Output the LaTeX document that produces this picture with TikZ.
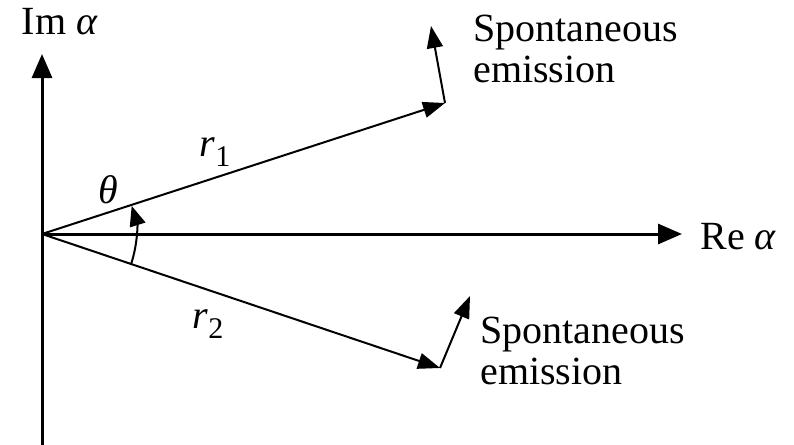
\documentclass[tikz,border=0pt]{standalone}
\usepackage{fontspec}
\setmainfont{Liberation Serif}
\usetikzlibrary{arrows.meta,positioning,calc}

\begin{document}
\begin{tikzpicture}[x=0.5pt,y=-0.5pt,
    axis/.style={line width=1.5pt,-{Triangle[length=12pt,width=10pt]}},
    vec/.style={line width=1pt,-{Triangle[length=11pt,width=8pt]}},
    lbl/.style={font=\fontsize{20}{20.5}\selectfont,inner sep=0pt}]
    \useasboundingbox (0,0) rectangle (794,445);

    \coordinate (O) at (42,234);
    \coordinate (Imbot) at (42,445);
    \coordinate (Imtip) at (42,54);
    \coordinate (Retip) at (682,234);
    \coordinate (A) at (445,103);
    \coordinate (Aem) at (431,26);
    \coordinate (B) at (440,368);
    \coordinate (Bem) at (470,296);

    \draw[axis] (Imbot) -- (Imtip);
    \draw[axis] (O) -- (Retip);
    \node[lbl] (imlbl) at (60,22) {Im \textit{α}};
    \node[lbl,anchor=west] (relbl) at (700,237) {Re \textit{α}};

    \draw[vec] (O) -- (A);
    \draw[vec] (A) -- (Aem);
    \draw[vec] (O) -- (B);
    \draw[vec] (B) -- (Bem);

    \draw[line width=1pt,-{Triangle[length=10pt,width=8pt]}]
        ($(O)+(18.6:94)$) arc[start angle=18.6,end angle=-17.4,radius=94];

    \node[lbl] (theta) at (108,190) {\textit{θ}};
    \node[lbl] (r1) at (215,152) {\textit{r}\raisebox{-0.5ex}{\fontsize{15}{15}\selectfont 1}};
    \node[lbl] (r2) at (208,324) {\textit{r}\raisebox{-0.5ex}{\fontsize{15}{15}\selectfont 2}};

    \node[lbl,align=left,anchor=north west] (sp1) at (473,15) {Spontaneous\\emission};
    \node[lbl,align=left,anchor=north west] (sp2) at (480,317) {Spontaneous\\emission};
\end{tikzpicture}
\end{document}
